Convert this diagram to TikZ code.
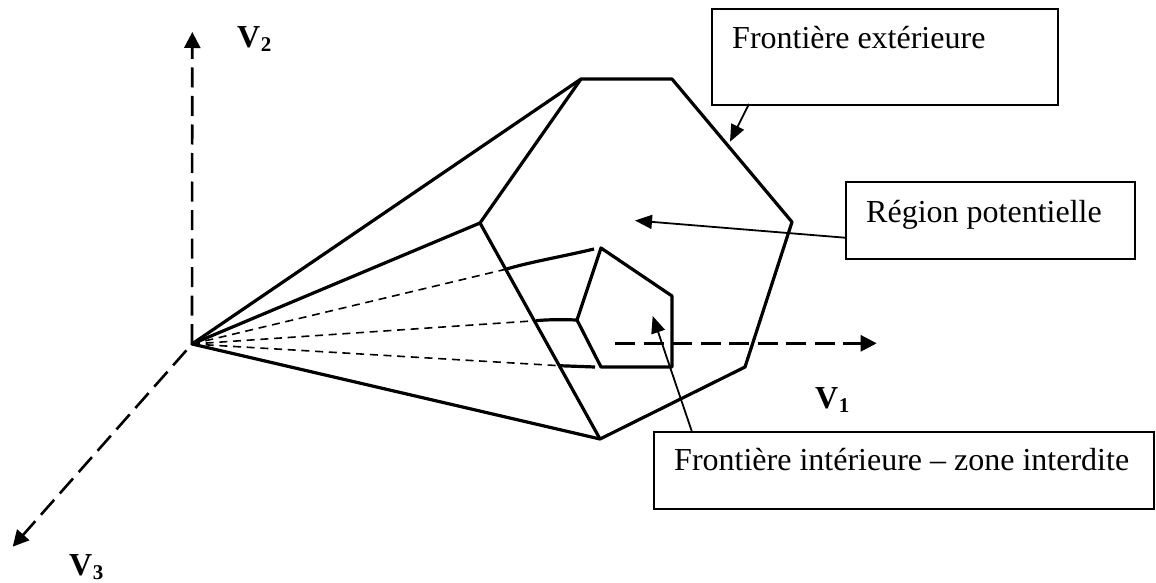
\documentclass[tikz,border=0pt]{standalone}
\usepackage{fontspec}
\setmainfont{Liberation Serif}
\usetikzlibrary{arrows.meta}
\newcommand{\axisname}[1]{V\kern0.5pt\raisebox{-4.5pt}{\fontsize{21}{21}\selectfont #1}}
\tikzset{
  solidedge/.style={line width=3.2pt},
  thinarrow/.style={line width=1.8pt,-{Triangle[length=17pt,width=14pt]}},
  axisline/.style={line width=2.6pt,dash pattern=on 20pt off 8.5pt,-{Triangle[length=16pt,width=16pt]}},
  fineline/.style={line width=1.6pt,dash pattern=on 8pt off 5.7pt},
  labelbox/.style={draw,line width=2.2pt,inner sep=0pt,anchor=north west},
  boxtext/.style={font=\fontsize{32}{36}\selectfont,anchor=base west,inner sep=0pt},
  axislabel/.style={font=\fontsize{32}{36}\selectfont\bfseries,anchor=base west,inner sep=0pt}
}
\begin{document}
\begin{tikzpicture}[x=1pt,y=-1pt]
\useasboundingbox (0,0) rectangle (1156,583);
\coordinate (O) at (192,344);
\coordinate (T1) at (581,79);
\coordinate (T2) at (672,79);
\coordinate (R) at (792,222);
\coordinate (BR) at (745,367);
\coordinate (B) at (600,439);
\coordinate (L) at (480,223);
\coordinate (I1) at (601,248);
\coordinate (I2) at (672,296);
\coordinate (I3) at (672,367);
\coordinate (I4) at (601,367);
\coordinate (I5) at (577,320);
\coordinate (C1) at (506.7,269);
\coordinate (C2) at (536,320.7);
\coordinate (C3) at (559,365.7);
\coordinate (V2e) at (192.3,32);
\coordinate (V1s) at (615,343.3);
\coordinate (V1e) at (876.7,343.3);
\coordinate (V3e) at (12.7,546.7);
% axes
\draw[axisline] (O) -- (V2e);
\draw[axisline,dash phase=20pt] (O) -- (V3e);
\draw[axisline] (V1s) -- (V1e);
% outer frontier
\draw[solidedge,line join=round] (O) -- (T1) -- (T2) -- (R) -- (BR) -- (B) -- cycle;
\draw[solidedge] (O) -- (L);
\draw[solidedge] (T1) -- (L) -- (B);
% inner frontier
\draw[solidedge,line join=round] (I1) -- (I2) -- (I3) -- (I4) -- (I5) -- cycle;
% hidden rays
\draw[fineline] (O) -- (C1);
\draw[fineline] (O) -- (C2);
\draw[fineline] (O) -- (C3);
\draw[solidedge] (C1) .. controls (530,262) and (565,256) .. (594,249);
\draw[solidedge] (C2) .. controls (548,319.5) and (562,319.5) .. (I5);
\draw[solidedge] (C3) -- (595,367);
% boxes
\node[labelbox,minimum width=346pt,minimum height=96pt] (b1) at (710.7,8) {};
\node[labelbox,minimum width=288.5pt,minimum height=77pt] (b2) at (845,181) {};
\node[labelbox,minimum width=499.7pt,minimum height=76.7pt] (b3) at (653,431) {};
\node[boxtext] (t1) at (732,49) {Frontière extérieure};
\node[boxtext] (t2) at (866,222.3) {Région potentielle};
\node[boxtext] (t3) at (674,470.7) {Frontière intérieure – zone interdite};
% arrows
\coordinate (a1e) at (730,141.7);
\coordinate (a2s) at (845,237.7);
\coordinate (a2e) at (635,220.5);
\coordinate (a3e) at (652.7,316);
\coordinate (a1s) at (749,104);
\coordinate (a3s) at (691.7,431);
\draw[thinarrow] (a1s) -- (a1e);
\draw[thinarrow] (a2s) -- (a2e);
\draw[thinarrow] (a3s) -- (a3e);
% axis labels
\node[axislabel] (v2) at (237,47.3) {\axisname{2}};
\node[axislabel] (v1) at (815,408) {\axisname{1}};
\node[axislabel] (v3) at (69,575) {\axisname{3}};
\end{tikzpicture}
\end{document}
